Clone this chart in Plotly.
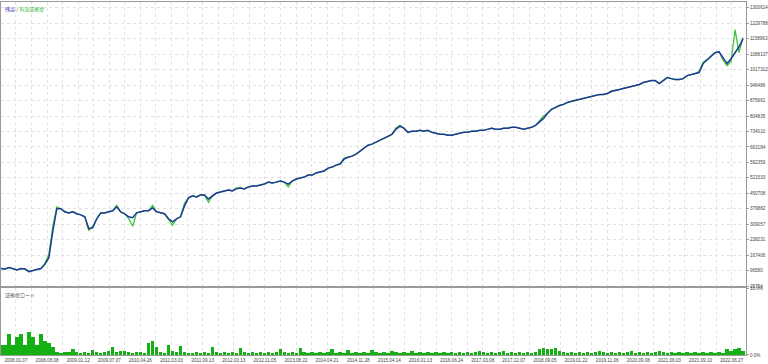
import plotly.graph_objects as go

balance_k = [
    106, 104, 111, 106, 100, 106, 104, 93, 97, 102,
    106, 125, 156, 279, 380, 380, 366, 361, 366, 357,
    352, 343, 289, 293, 334, 361, 361, 366, 371, 389,
    366, 357, 343, 339, 361, 366, 371, 371, 384, 366,
    361, 357, 334, 320, 334, 343, 393, 430, 439, 434,
    443, 443, 425, 439, 452, 457, 462, 466, 462, 471,
    475, 471, 480, 484, 484, 489, 493, 502, 498, 502,
    507, 502, 493, 507, 516, 521, 525, 534, 534, 544,
    548, 553, 566, 571, 580, 585, 607, 616, 621, 630,
    644, 657, 671, 676, 685, 694, 703, 712, 721, 744,
    758, 749, 730, 735, 735, 739, 735, 739, 730, 726,
    721, 721, 717, 717, 721, 726, 730, 730, 735, 735,
    739, 739, 744, 749, 744, 744, 749, 749, 753, 753,
    749, 744, 749, 753, 762, 776, 794, 817, 835, 844,
    853, 858, 867, 872, 876, 881, 885, 890, 894, 899,
    903, 903, 908, 917, 922, 926, 931, 935, 940, 944,
    949, 958, 963, 967, 967, 953, 967, 981, 976, 972,
    972, 976, 990, 994, 999, 1004, 1045, 1063, 1081, 1095,
    1099, 1072, 1045, 1067, 1095, 1122, 1158,
]

equity_k = [
    106, 104, 111, 106, 100, 106, 104, 90, 97, 102,
    106, 130, 170, 300, 388, 380, 366, 361, 366, 357,
    352, 343, 280, 300, 334, 361, 361, 366, 371, 395,
    366, 357, 335, 300, 361, 366, 371, 371, 395, 366,
    361, 357, 330, 305, 334, 343, 405, 430, 439, 434,
    443, 443, 410, 439, 452, 457, 462, 466, 462, 475,
    475, 471, 480, 484, 484, 489, 493, 502, 498, 502,
    507, 502, 480, 507, 516, 521, 525, 534, 534, 544,
    548, 553, 566, 571, 580, 585, 612, 616, 621, 630,
    644, 657, 671, 676, 685, 694, 703, 712, 721, 750,
    762, 749, 730, 735, 735, 739, 735, 739, 730, 726,
    721, 721, 717, 717, 721, 726, 730, 730, 735, 735,
    739, 739, 744, 749, 744, 744, 749, 749, 753, 753,
    749, 744, 749, 753, 762, 785, 805, 817, 835, 844,
    853, 858, 867, 872, 876, 881, 885, 890, 894, 899,
    903, 903, 908, 920, 922, 926, 931, 935, 940, 944,
    949, 958, 963, 967, 967, 953, 967, 981, 976, 972,
    972, 976, 990, 994, 999, 1010, 1050, 1063, 1081, 1095,
    1099, 1060, 1035, 1055, 1200, 1095, 1165,
]

margin_load = [
    1.5, 1.4, 3.1, 1.5, 2.6, 3.1, 1.5, 3.4, 2.6, 1.5,
    3.1, 2.1, 1.8, 1.2, 0.4, 0.3, 0.4, 0.4, 0.9, 0.4,
    0.3, 0.4, 0.3, 0.7, 0.4, 0.3, 0.4, 0.5, 1.1, 0.4,
    0.5, 0.6, 0.4, 0.3, 0.4, 0.4, 0.3, 1.8, 2.0, 1.2,
    0.4, 0.3, 1.5, 0.5, 0.4, 1.3, 0.4, 0.3, 0.3, 0.4,
    0.3, 0.4, 0.3, 1.1, 0.4, 0.3, 0.4, 0.3, 0.4, 0.3,
    1.0, 0.4, 0.3, 0.4, 0.3, 0.4, 0.3, 0.4, 0.3, 0.4,
    0.8, 0.4, 0.3, 0.4, 0.3, 1.0, 0.4, 0.3, 0.4, 0.3,
    0.4, 0.3, 0.4, 0.8, 0.3, 0.4, 0.3, 0.7, 0.3, 0.4,
    0.3, 0.4, 0.3, 0.7, 0.4, 0.3, 0.4, 0.3, 0.6, 0.4,
    0.3, 0.4, 0.3, 0.5, 0.3, 0.4, 0.3, 0.4, 0.3, 0.4,
    0.3, 0.4, 0.3, 0.4, 0.3, 0.4, 0.3, 0.4, 0.3, 0.4,
    0.6, 0.4, 0.3, 0.4, 0.3, 0.4, 0.5, 0.3, 0.4, 0.3,
    0.4, 0.3, 0.4, 0.3, 0.4, 0.8, 1.0, 0.9, 0.8, 1.0,
    0.5, 0.4, 0.3, 0.4, 0.3, 0.4, 0.3, 0.4, 0.3, 0.4,
    0.6, 0.4, 0.3, 0.4, 0.3, 0.4, 0.3, 0.4, 0.6, 0.3,
    0.4, 0.3, 0.4, 0.3, 0.4, 0.6, 0.4, 0.3, 0.4, 0.3,
    0.4, 0.3, 0.4, 0.3, 0.4, 0.3, 0.4, 0.3, 0.4, 0.3,
    0.4, 0.3, 0.8, 0.6, 0.8, 1.0, 0.5,
]

date_labels = [
    "2008.01.07", "2008.08.08", "2009.01.12", "2009.07.07", "2010.04.26",
    "2011.03.03", "2011.09.13", "2012.03.13", "2012.11.05", "2013.08.22",
    "2014.04.21", "2014.11.28", "2015.04.14", "2016.01.13", "2016.06.24",
    "2017.03.08", "2017.12.07", "2018.09.05", "2019.01.22", "2019.11.06",
    "2020.09.08", "2021.06.03", "2021.09.10", "2022.06.27",
]

y_labels = [25754, 96580, 167406, 238231, 309057, 379882, 450708, 521533,
            592359, 663184, 734010, 804835, 875661, 946486, 1017312,
            1088137, 1158963, 1229788, 1300614]

balance = [v * 1000 for v in balance_k]
equity = [v * 1000 for v in equity_k]
idx = list(range(len(balance)))

# tick positions (grid every half label step)
step = 7.8
tickvals, ticktext = [], []
for k, lab in enumerate(date_labels):
    p = 3.75 + k * step
    tickvals.append(p)
    ticktext.append(lab)
    tickvals.append(p + step / 2)
    ticktext.append("")

FONT = "Liberation Sans"
GRID = "#e2e2e2"

fig = go.Figure()
fig.add_trace(go.Scatter(x=idx, y=equity, mode="lines",
                         line=dict(color="#3cc43c", width=1.3),
                         xaxis="x", yaxis="y", hoverinfo="skip"))
fig.add_trace(go.Scatter(x=idx, y=balance, mode="lines",
                         line=dict(color="#1f3a96", width=1.5),
                         xaxis="x", yaxis="y", hoverinfo="skip"))
fig.add_trace(go.Bar(x=idx, y=margin_load, marker=dict(color="#14b014", line=dict(width=0)),
                     width=0.85, xaxis="x2", yaxis="y2", hoverinfo="skip"))

xr = [0, 186.75]
axis_common = dict(showline=True, mirror=True, linecolor="#9a9a9a", linewidth=1,
                   showgrid=True, gridcolor=GRID, griddash="dot", gridwidth=1,
                   zeroline=False)

fig.update_layout(
    width=768, height=364,
    margin=dict(l=1, r=21, t=0, b=9),
    paper_bgcolor="white", plot_bgcolor="white",
    showlegend=False, bargap=0,
    font=dict(family=FONT, size=5, color="#444"),
    xaxis=dict(domain=[0, 1], range=xr, tickvals=tickvals, ticktext=ticktext,
               showticklabels=False, ticks="", anchor="y", **axis_common),
    yaxis=dict(domain=[0.1944, 1], range=[24388, 1327031], side="right",
               tickvals=y_labels, ticktext=[str(v) for v in y_labels],
               ticks="outside", ticklen=2, tickcolor="#9a9a9a",
               tickfont=dict(family=FONT, size=4.6, color="#444"),
               anchor="x", **axis_common),
    xaxis2=dict(domain=[0, 1], range=xr, tickvals=tickvals, ticktext=ticktext,
                tickfont=dict(family=FONT, size=4.6, color="#444"), ticks="",
                anchor="y2", **axis_common),
    yaxis2=dict(domain=[0, 0.1887], range=[0, 10], side="right",
                tickvals=[0, 10], ticktext=["0.0%", "10.0%"],
                ticks="outside", ticklen=2, tickcolor="#9a9a9a",
                tickfont=dict(family=FONT, size=4.6, color="#444"),
                anchor="x2", **{**axis_common, "showgrid": False}),
)

fig.add_annotation(xref="paper", yref="paper", x=0.003, y=1.0, xanchor="left", yanchor="top",
                   text='<span style="color:#3434c0">残高</span> / <span style="color:#2fb82f">有効証拠金</span>',
                   showarrow=False, font=dict(family="Noto Sans CJK JP", size=5), yshift=-1)
fig.add_annotation(xref="paper", yref="paper", x=0.003, y=0.1887, xanchor="left", yanchor="top",
                   text="証拠金ロード", showarrow=False,
                   font=dict(family="Noto Sans CJK JP", size=5, color="#555"), yshift=-1)

fig.write_html("out.html")
